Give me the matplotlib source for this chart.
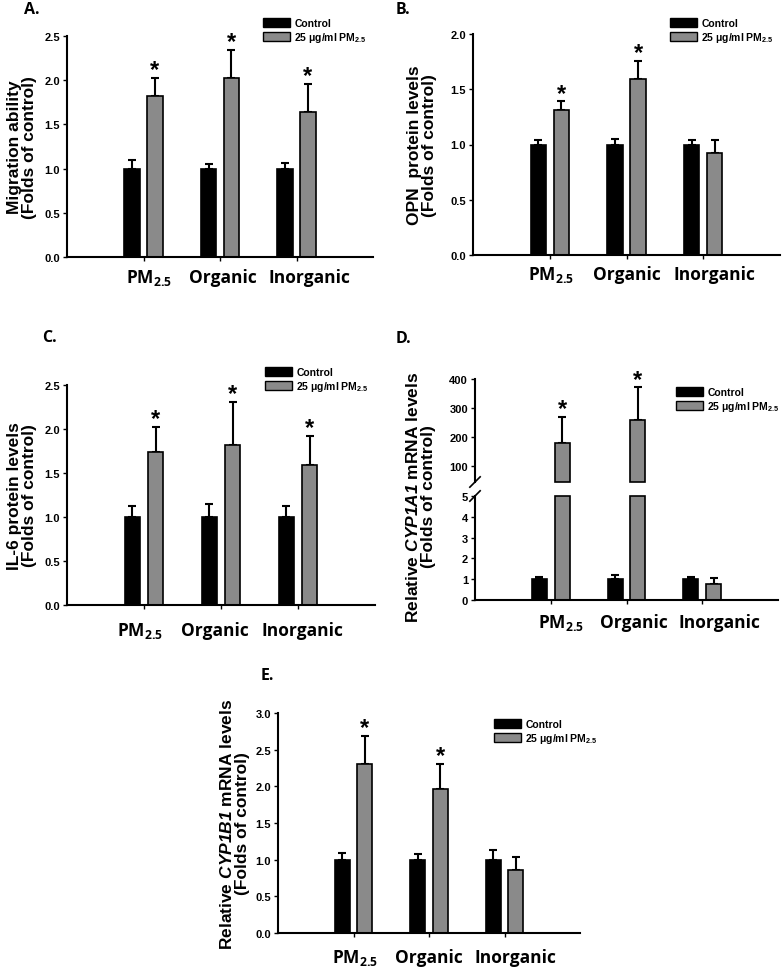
import numpy as np
import matplotlib as mpl
mpl.use("Agg")
import matplotlib.pyplot as plt
from matplotlib.patches import Patch
from matplotlib.transforms import ScaledTranslation

mpl.rcParams["mathtext.fontset"] = "custom"
mpl.rcParams["mathtext.default"] = "regular"
mpl.rcParams["mathtext.it"] = "Liberation Sans:italic:bold"
mpl.rcParams["mathtext.rm"] = "Liberation Sans:italic:bold"

W, H = 783.0, 970.0

groups = ["PM$_{2.5}$", "Organic", "Inorganic"]
ctrl = [1.0, 1.0, 1.0]

A_ctrl_err = [0.10, 0.05, 0.06]
A_pm = [1.82, 2.02, 1.64]
A_pm_err = [0.21, 0.32, 0.32]
A_sig = [True, True, True]

B_ctrl_err = [0.04, 0.05, 0.04]
B_pm = [1.31, 1.59, 0.92]
B_pm_err = [0.08, 0.17, 0.12]
B_sig = [True, True, False]

C_ctrl_err = [0.13, 0.15, 0.13]
C_pm = [1.74, 1.82, 1.59]
C_pm_err = [0.28, 0.49, 0.33]
C_sig = [True, True, True]

D_ctrl_err = [0.10, 0.22, 0.10]
D_pm = [180.0, 258.0, 0.78]
D_pm_err = [88.0, 113.0, 0.28]
D_sig = [True, True, False]

E_ctrl_err = [0.09, 0.08, 0.13]
E_pm = [2.31, 1.96, 0.86]
E_pm_err = [0.38, 0.35, 0.17]
E_sig = [True, True, False]

GRAY = "#8a8a8a"
OFF, BW = 0.15, 0.2
TICKFONT = dict(family="Liberation Sans", weight="bold", size=8)
LABFONT = dict(family="Liberation Sans", weight="bold", size=12.5)
XFONT = dict(family="Open Sans", weight="bold", size=12.5)

fig = plt.figure(figsize=(W / 100, H / 100), dpi=100)


def px_axes(l, t, r, b):
	# pixel box -> figure fraction
	return fig.add_axes([l / W, 1 - b / H, (r - l) / W, (b - t) / H])


def style_axes(ax):
	for s in ("top", "right"):
		ax.spines[s].set_visible(False)
	for s in ("left", "bottom"):
		ax.spines[s].set_linewidth(1.5)
	ax.set_xlim(0, 4)
	ax.set_xticks([1, 2, 3])
	ax.set_xticklabels([])
	ax.tick_params(axis="y", direction="out", length=3, width=1, pad=2)
	ax.tick_params(axis="x", direction="out", length=3, width=1)
	for t in ax.get_yticklabels():
		t.set(**TICKFONT)


def group_labels(ax, shifts, drop):
	# category names sit a bit off the ticks in the original, as typed text
	for i, name in enumerate(groups):
		tr = ax.get_xaxis_transform() + ScaledTranslation(shifts[i] / 100, -drop / 100, fig.dpi_scale_trans)
		ax.text(i + 1, 0, name, transform=tr, ha="center", va="baseline", **XFONT)


def star(ax, x, y):
	ax.annotate("*", (x, y), xytext=(0, 6), textcoords="offset points",
		ha="center", va="center", fontsize=17, fontweight="bold", family="Liberation Sans")


def bars(ax, pm, pm_err, ctrl_err, sig):
	x = np.arange(1, 4)
	ax.bar(x - OFF, ctrl, BW, color="black", edgecolor="black", linewidth=1.2, zorder=2)
	ax.bar(x + OFF, pm, BW, color=GRAY, edgecolor="black", linewidth=1.2, zorder=2)
	ekw = dict(fmt="none", ecolor="black", elinewidth=1.5, capsize=3, capthick=1.5, zorder=1)
	ax.errorbar(x - OFF, ctrl, yerr=[np.zeros(3), ctrl_err], **ekw)
	ax.errorbar(x + OFF, pm, yerr=[np.zeros(3), pm_err], **ekw)
	for i in range(3):
		if sig[i]:
			star(ax, x[i] + OFF, pm[i] + pm_err[i])


def legend(x, y):
	handles = [Patch(facecolor="black", edgecolor="black", linewidth=1),
		Patch(facecolor=GRAY, edgecolor="black", linewidth=1)]
	fig.legend(handles, ["Control", "25 μg/ml PM$_{2.5}$"], loc="upper left",
		bbox_to_anchor=(x / W, 1 - y / H), frameon=False, borderpad=0, borderaxespad=0,
		handlelength=2.6, handleheight=0.85, handletextpad=0.4, labelspacing=0.2,
		prop=dict(family="Liberation Sans", weight="bold", size=7.5))


def panel_label(txt, x, y):
	fig.text(x / W, 1 - y / H, txt, ha="left", va="center", family="Open Sans", weight="bold", size=11.5)


# A
ax = px_axes(67, 37, 373, 258)
bars(ax, A_pm, A_pm_err, A_ctrl_err, A_sig)
ax.set_ylim(0, 2.5)
ax.set_yticks([0, 0.5, 1.0, 1.5, 2.0, 2.5])
ax.set_yticklabels(["0.0", "0.5", "1.0", "1.5", "2.0", "2.5"])
style_axes(ax)
group_labels(ax, [6, 3, 13], 25)
ax.set_ylabel("Migration ability\n(Folds of control)", linespacing=1.0, labelpad=5, **LABFONT)
legend(263, 19)
panel_label("A.", 24, 10)

# B
ax = px_axes(473, 35, 780, 256)
bars(ax, B_pm, B_pm_err, B_ctrl_err, B_sig)
ax.set_ylim(0, 2.0)
ax.set_yticks([0, 0.5, 1.0, 1.5, 2.0])
ax.set_yticklabels(["0.0", "0.5", "1.0", "1.5", "2.0"])
style_axes(ax)
group_labels(ax, [1, 0, 11], 24)
ax.set_ylabel("OPN  protein levels\n(Folds of control)", linespacing=1.0, labelpad=10, **LABFONT)
legend(670, 19)
panel_label("B.", 396, 10)

# C
ax = px_axes(67, 386, 375, 606)
bars(ax, C_pm, C_pm_err, C_ctrl_err, C_sig)
ax.set_ylim(0, 2.5)
ax.set_yticks([0, 0.5, 1.0, 1.5, 2.0, 2.5])
ax.set_yticklabels(["0.0", "0.5", "1.0", "1.5", "2.0", "2.5"])
style_axes(ax)
group_labels(ax, [-4, -6, 4], 30)
ax.set_ylabel("IL-6 protein levels\n(Folds of control)", linespacing=1.0, labelpad=5, **LABFONT)
legend(265, 368)
panel_label("C.", 42, 338)

# D: broken axis
D_LOW_TOP, D_UP_BOT = 5.0, 45.0
x = np.arange(1, 4)
pm = np.array(D_pm)
pm_err = np.array(D_pm_err)
big = pm > D_LOW_TOP

axl = px_axes(475, 497, 778, 601)
axl.bar(x - OFF, ctrl, BW, color="black", edgecolor="black", linewidth=1.2, zorder=2)
axl.bar(x + OFF, np.minimum(pm, D_LOW_TOP), BW, color=GRAY, edgecolor="black", linewidth=1.2,
	zorder=2, clip_on=False)
ekw = dict(fmt="none", ecolor="black", elinewidth=1.5, capsize=3, capthick=1.5, zorder=1)
axl.errorbar(x - OFF, ctrl, yerr=[np.zeros(3), D_ctrl_err], **ekw)
axl.errorbar((x + OFF)[~big], pm[~big], yerr=[np.zeros((~big).sum()), pm_err[~big]], **ekw)
axl.set_ylim(0, D_LOW_TOP)
axl.set_yticks([0, 1, 2, 3, 4, 5])
style_axes(axl)
group_labels(axl, [10, 7, 17], 27)

axu = px_axes(475, 380, 778, 483)
axu.bar((x + OFF)[big], pm[big] - D_UP_BOT, BW, bottom=D_UP_BOT, color=GRAY, edgecolor="black",
	linewidth=1.2, zorder=2, clip_on=False)
axu.errorbar((x + OFF)[big], pm[big], yerr=[np.zeros(big.sum()), pm_err[big]], **ekw)
for i in range(3):
	if D_sig[i]:
		star(axu, x[i] + OFF, pm[i] + pm_err[i])
axu.set_ylim(D_UP_BOT, 400)
axu.set_yticks([100, 200, 300, 400])
style_axes(axu)
axu.spines["bottom"].set_visible(False)
axu.tick_params(axis="x", bottom=False)

# break marks on the left spine
dx, dy = 0.017, 0.05
axu.plot([-dx, dx], [-dy, dy], transform=axu.transAxes, color="black", lw=1.2, clip_on=False)
axl.plot([-dx, dx], [1 - dy, 1 + dy], transform=axl.transAxes, color="black", lw=1.2, clip_on=False)

fig.text(421 / W, 1 - 497 / H, "Relative $\\mathit{CYP1A1}$ mRNA levels\n(Folds of control)",
	rotation=90, ha="center", va="center", linespacing=1.0, **LABFONT)
legend(676, 388)
panel_label("D.", 396, 339)

# E
ax = px_axes(278, 714, 580, 934)
bars(ax, E_pm, E_pm_err, E_ctrl_err, E_sig)
ax.set_ylim(0, 3.0)
ax.set_yticks([0, 0.5, 1.0, 1.5, 2.0, 2.5, 3.0])
ax.set_yticklabels(["0.0", "0.5", "1.0", "1.5", "2.0", "2.5", "3.0"])
style_axes(ax)
group_labels(ax, [1.5, 0, 10.5], 29)
ax.set_ylabel("Relative $\\mathit{CYP1B1}$ mRNA levels\n(Folds of control)", linespacing=1.0,
	labelpad=4, **LABFONT)
legend(494, 720)
panel_label("E.", 261, 676)

fig.savefig("out.png", dpi=100)
